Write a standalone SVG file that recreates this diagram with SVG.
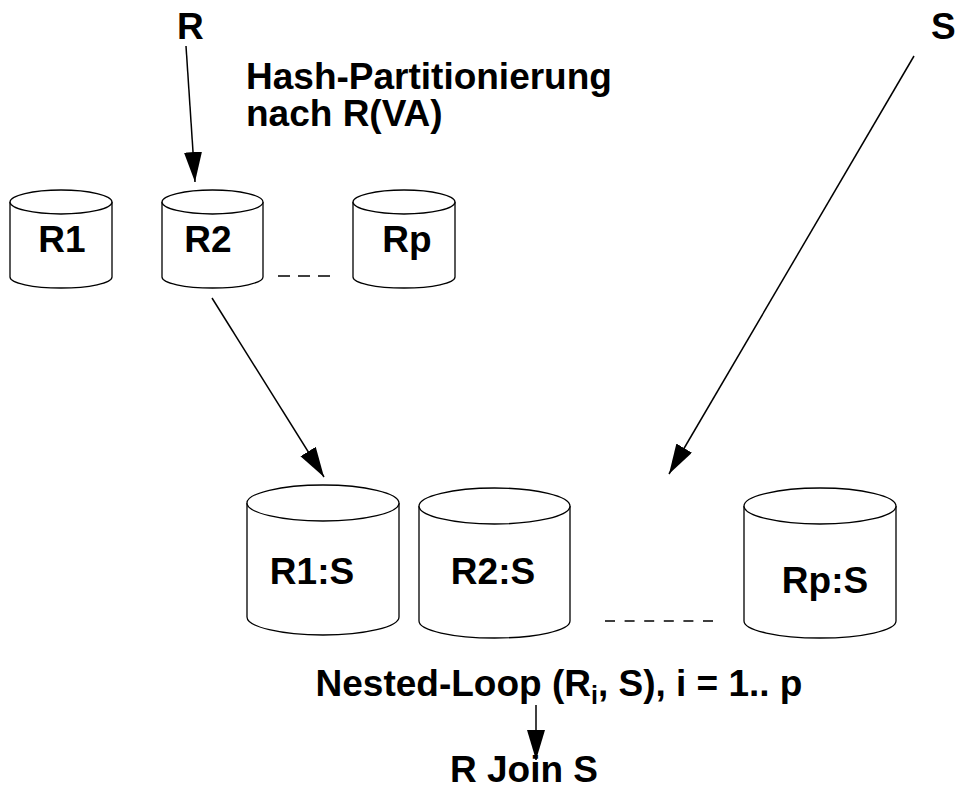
<svg xmlns="http://www.w3.org/2000/svg" width="955" height="798" viewBox="0 0 955 798">
<style>
  .cyl { fill: #fff; stroke: #000; stroke-width: 1.3; }
  .lbl { font-family: "Liberation Sans", Arial, sans-serif; font-weight: bold; font-size: 37px; fill: #000; }
  .mid { text-anchor: middle; }
  .conn { stroke: #000; stroke-width: 1.5; fill: none; }
  .dash { stroke: #000; stroke-width: 1.5; fill: none; }
</style>
<defs>
  <marker id="ah" markerUnits="userSpaceOnUse" markerWidth="32" markerHeight="20" refX="30" refY="9" orient="auto">
    <path d="M0,0 L30,9 L0,18 Z" fill="#000"/>
  </marker>
</defs>
<rect width="955" height="798" fill="#fff"/>

<text class="lbl" x="177" y="39">R</text>
<text class="lbl" x="931" y="39">S</text>
<text class="lbl" x="246" y="89">Hash-Partitionierung</text>
<text class="lbl" x="246" y="126">nach R(VA)</text>

<g id="R1">
  <path class="cyl" d="M10,202 V277 A51,11 0 0 0 112,277 V202"/>
  <ellipse class="cyl" cx="61" cy="202" rx="51" ry="12"/>
  <text class="lbl mid" x="62" y="252">R1</text>
</g>
<g id="R2">
  <path class="cyl" d="M162,202 V277 A50.5,11 0 0 0 263,277 V202"/>
  <ellipse class="cyl" cx="212.5" cy="202" rx="50.5" ry="12"/>
  <text class="lbl mid" x="208" y="252">R2</text>
</g>
<g id="Rp">
  <path class="cyl" d="M353,202 V277 A51,11 0 0 0 455,277 V202"/>
  <ellipse class="cyl" cx="404" cy="202" rx="51" ry="12"/>
  <text class="lbl mid" x="407" y="252">Rp</text>
</g>

<g id="R1S">
  <path class="cyl" d="M247,503 V617 A76,18 0 0 0 399,617 V503"/>
  <ellipse class="cyl" cx="323" cy="503" rx="76" ry="18"/>
  <text class="lbl mid" x="312" y="584">R1:S</text>
</g>
<g id="R2S">
  <path class="cyl" d="M419,506 V621 A75.5,17 0 0 0 570,621 V506"/>
  <ellipse class="cyl" cx="494.5" cy="506" rx="75.5" ry="18"/>
  <text class="lbl mid" x="493" y="584">R2:S</text>
</g>
<g id="RpS">
  <path class="cyl" d="M744,506 V621 A76,17 0 0 0 896,621 V506"/>
  <ellipse class="cyl" cx="820" cy="506" rx="76" ry="18"/>
  <text class="lbl mid" x="825" y="593">Rp:S</text>
</g>

<text class="lbl mid" x="559" y="696">Nested-Loop (R<tspan font-size="25" dy="8">i</tspan><tspan dy="-8">, S), i = 1.. p</tspan></text>
<text class="lbl mid" x="524" y="782">R Join S</text>

<g id="connectors">
  <line class="conn" x1="186" y1="46" x2="195" y2="182" marker-end="url(#ah)"/>
  <line class="conn" x1="212" y1="298" x2="324" y2="477" marker-end="url(#ah)"/>
  <line class="conn" x1="914" y1="56" x2="669" y2="474" marker-end="url(#ah)"/>
  <line class="conn" x1="536" y1="705" x2="536" y2="760" marker-end="url(#ah)"/>
  <line class="dash" x1="278" y1="276" x2="338" y2="276" stroke-dasharray="12,8"/>
  <line class="dash" x1="605" y1="621" x2="714" y2="621" stroke-dasharray="10,9.6"/>
</g>
</svg>
